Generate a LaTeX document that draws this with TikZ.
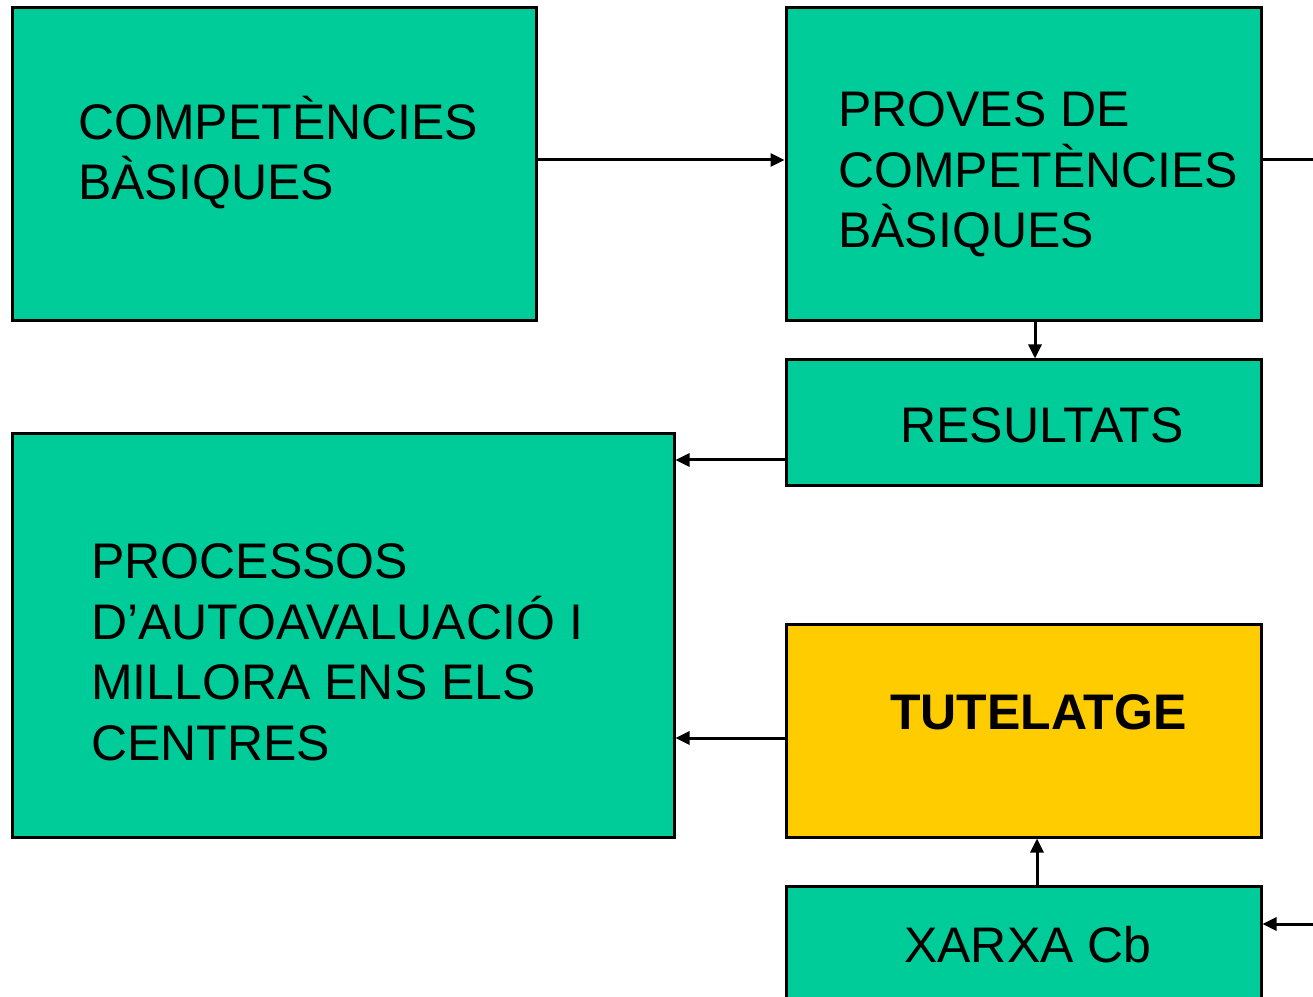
\documentclass[tikz,border=0pt]{standalone}
\usepackage{fontspec}
\setmainfont{Liberation Sans}
\usetikzlibrary{arrows.meta}
\definecolor{boxgreen}{RGB}{0,204,153}
\definecolor{boxyellow}{RGB}{255,204,0}
\begin{document}
\begin{tikzpicture}[x=1pt,y=1pt,
  box/.style={draw=black,line width=3pt,fill=boxgreen,rectangle,inner sep=0pt},
  txt/.style={anchor=base west,inner sep=0pt,align=left,font=\fontsize{50}{60.5}\selectfont},
  arr/.style={line width=3pt,-{Triangle[length=14pt,width=13pt]}},
  ln/.style={line width=3pt}]
\useasboundingbox (0,0) rectangle (1313,996);
\clip (0,0) rectangle (1313,996);
\node[box,minimum width=524pt,minimum height=313pt] (A) at (274,831.5) {};
\node[box,minimum width=475pt,minimum height=313pt] (B) at (1023.5,831.5) {};
\node[box,minimum width=475pt,minimum height=126pt] (C) at (1023.5,573) {};
\node[box,minimum width=662pt,minimum height=403pt] (D) at (343,360.5) {};
\node[box,fill=boxyellow,minimum width=475pt,minimum height=212pt] (E) at (1023.5,265) {};
\node[box,minimum width=475pt,minimum height=140pt] (F) at (1023.5,40) {};
\node[txt] (tA) at (78,796) {COMPETÈNCIES\\BÀSIQUES};
\node[txt] (tB) at (838,748) {PROVES DE\\COMPETÈNCIES\\BÀSIQUES};
\node[txt] (tC) at (900,553) {RESULTATS};
\node[txt] (tD) at (91,236) {PROCESSOS\\D’AUTOAVALUACIÓ I\\MILLORA ENS ELS\\CENTRES};
\node[txt,font=\fontsize{50}{60}\selectfont\bfseries] (tE) at (890,266) {TUTELATGE};
\node[txt] (tF) at (904,34) {XARXA Cb};
\coordinate (yAB) at (0,836);
\coordinate (yCD) at (0,536);
\coordinate (yED) at (0,258);
\coordinate (yF) at (0,72);
\coordinate (xBC) at (1035,0);
\coordinate (xFE) at (1037,0);
\coordinate (rB) at (1313,836);
\coordinate (rF) at (1313,72);
\draw[arr] (A.east |- yAB) -- (B.west |- yAB);
\draw[ln] (B.east |- yAB) -- (rB);
\draw[arr] (B.south -| xBC) -- (C.north -| xBC);
\draw[arr] (C.west |- yCD) -- (D.east |- yCD);
\draw[arr] (E.west |- yED) -- (D.east |- yED);
\draw[arr] (F.north -| xFE) -- (E.south -| xFE);
\draw[arr] (rF) -- (F.east |- yF);
\end{tikzpicture}
\end{document}
